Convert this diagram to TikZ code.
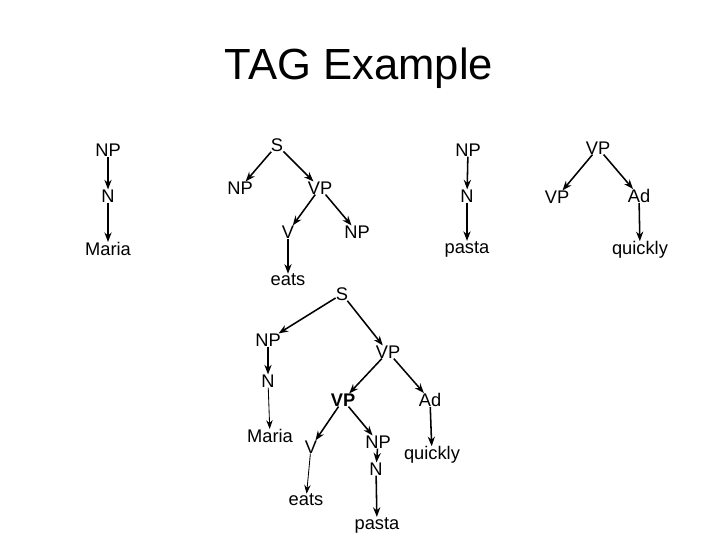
\documentclass[tikz,border=0pt]{standalone}
\usepackage{fontspec}
\setmainfont{Liberation Sans}
\usetikzlibrary{arrows.meta}

\begin{document}
\begin{tikzpicture}[x=0.025cm,y=-0.025cm,
  lab/.style={inner sep=0pt,font=\fontsize{13}{15}\selectfont},
  edge/.style={-{Stealth[length=2.4mm,width=1.8mm]},line width=1.1pt},
  thinedge/.style={-{Stealth[length=2.2mm,width=1.6mm]},line width=0.6pt}]
\useasboundingbox (0,0) rectangle (720,540);
\node[font=\fontsize{31}{36}\selectfont] (title) at (359,68) {TAG Example};

% initial tree for Maria
\node[lab] (np1) at (108,150) {NP};
\node[lab] (n1) at (108,196) {N};
\node[lab] (maria1) at (108,249) {Maria};
\draw[edge] (np1) -- (n1);
\draw[edge] (n1) -- (maria1);

% initial tree for eats
\node[lab] (s2) at (277,145) {S};
\node[lab] (np2) at (240,188) {NP};
\node[lab] (vp2) at (320,188) {VP};
\node[lab] (v2) at (288,232) {V};
\node[lab] (npo2) at (357,232) {NP};
\node[lab] (eats2) at (288,280) {eats};
\draw[edge] (s2) -- (np2);
\draw[edge] (s2) -- (vp2);
\draw[edge] (vp2) -- (v2);
\draw[edge] (vp2) -- (npo2);
\draw[edge] (v2) -- (eats2);

% initial tree for pasta
\node[lab] (np3) at (468,150) {NP};
\node[lab] (n3) at (467,196) {N};
\node[lab] (pasta3) at (467,249) {pasta};
\draw[edge] (np3) -- (n3);
\draw[edge] (n3) -- (pasta3);

% auxiliary tree for quickly
\node[lab] (vp4) at (598,148) {VP};
\node[lab] (vpf4) at (557,197) {VP};
\node[lab] (ad4) at (639,196) {Ad};
\node[lab] (quickly4) at (640,250) {quickly};
\draw[edge] (vp4) -- (vpf4);
\draw[edge] (vp4) -- (ad4);
\draw[edge] (ad4) -- (quickly4);

% derived tree
\node[lab] (s) at (342,294) {S};
\node[lab] (np) at (268,340) {NP};
\node[lab] (vp) at (388,352) {VP};
\node[lab] (n) at (268,381) {N};
\node[lab,font=\fontsize{13}{15}\selectfont\bfseries] (vpb) at (343,400) {VP};
\node[lab] (ad) at (430,400) {Ad};
\node[lab] (maria) at (270,436) {Maria};
\node[lab] (v) at (311,447) {V};
\node[lab] (npo) at (378,442) {NP};
\node[lab] (quickly) at (432,455) {quickly};
\node[lab] (no) at (376,469) {N};
\node[lab] (eats) at (306,500) {eats};
\node[lab] (pasta) at (377,525) {pasta};
\draw[edge] (s) -- (np);
\draw[edge] (s) -- (vp);
\draw[edge] (np) -- (n);
\draw[thinedge] (n) -- (maria);
\draw[edge] (vp) -- (vpb);
\draw[edge] (vp) -- (ad);
\draw[edge] (vpb) -- (v);
\draw[edge] (vpb) -- (npo);
\draw[thinedge] (v) -- (eats);
\draw[edge] (npo) -- (no);
\draw[edge] (no) -- (pasta);
\draw[edge] (ad) -- (quickly);
\end{tikzpicture}
\end{document}
